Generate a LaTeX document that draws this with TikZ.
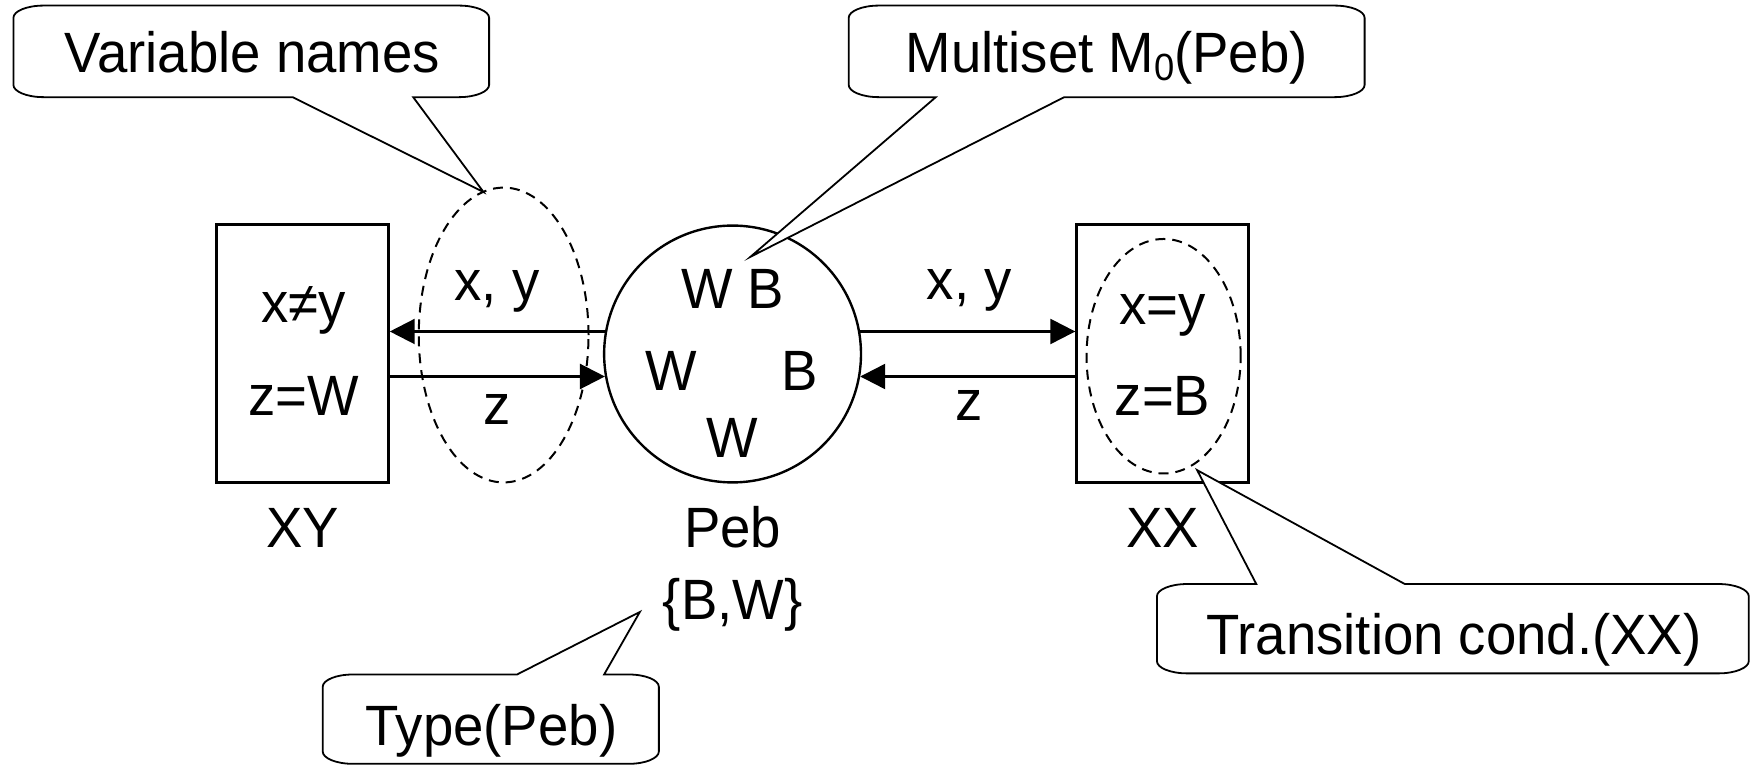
\documentclass[tikz,border=0pt]{standalone}
\usepackage{fontspec}
\setmainfont[FakeStretch=0.96]{Liberation Sans}
\usetikzlibrary{arrows.meta,shapes.geometric}
\begin{document}
\begin{tikzpicture}[x=0.56pt,y=-0.56pt,
  lbl/.style={font=\fontsize{28.5}{33}\selectfont, inner sep=0pt, anchor=base},
  trans/.style={draw, line width=1.2pt, minimum width=154*0.56pt, minimum height=231*0.56pt, inner sep=0pt},
  place/.style={draw, circle, line width=1.2pt, minimum size=230*0.56pt, inner sep=0pt},
  dashell/.style={draw, ellipse, line width=1pt, dash pattern=on 5pt off 3.5pt, inner sep=0pt},
  arr/.style={line width=1.2pt, -{Triangle[length=12.5pt,width=12.5pt]}},
  callout/.style={draw, line width=0.9pt, fill=white, line join=miter},
]
\useasboundingbox (0,0) rectangle (1568,686);

% transitions and place
\node[trans] (xy) at (271,316.5) {};
\node[trans] (xx) at (1041,316.5) {};
\node[place] (peb) at (656,317) {};

% dashed ellipses
\node[dashell, minimum width=152*0.56pt, minimum height=264*0.56pt] (varell) at (451,300) {};
\node[dashell, minimum width=138*0.56pt, minimum height=210*0.56pt] (condell) at (1042,319) {};

% texts in transitions
\node[lbl] (xyg1) at (272,289) {x≠y};
\node[lbl] (xyg2) at (272,372) {z=W};
\node[lbl] (xxg1) at (1041,291) {x=y};
\node[lbl] (xxg2) at (1041,372) {z=B};
\node[lbl] (xyname) at (271,490) {XY};
\node[lbl] (xxname) at (1041,490) {XX};

% tokens in place
\node[lbl] (tok1) at (656,276) {W B};
\node[lbl] (tok2) at (601,350) {W};
\node[lbl] (tok3) at (716,350) {B};
\node[lbl] (tok4) at (656,410) {W};
\node[lbl] (pebname) at (656,490) {Peb};
\node[lbl] (pebtype) at (656,555) {\{B,W\}};

% arcs
\draw[arr] (peb.170) -- (xy.east |- peb.170);
\draw[arr] (xy.east |- peb.190) -- (peb.190);
\draw[arr] (peb.10) -- (xx.west |- peb.10);
\draw[arr] (xx.west |- peb.350) -- (peb.350);
\node[lbl] (l1) at (445,269) {x, y};
\node[lbl] (l2) at (445,380) {z};
\node[lbl] (l3) at (868,268) {x, y};
\node[lbl] (l4) at (868,377) {z};

% callouts
\coordinate (tipvar) at (433,172);
\coordinate (tipms) at (672,230);
\coordinate (tiptc) at (1072,421);
\coordinate (tiptype) at (573,548);

\draw[callout] (262,87) -- (tipvar) -- (370,87) -- (411,87) .. controls (426,87) and (438,82) .. (438,76) -- (438,16) .. controls (438,10) and (426,5) .. (411,5) -- (39,5) .. controls (24,5) and (12,10) .. (12,16) -- (12,76) .. controls (12,82) and (24,87) .. (39,87) -- cycle;
\node[lbl] (cvar) at (226,65) {Variable names};

\draw[callout] (838,87) -- (tipms) -- (953,87) -- (1195,87) .. controls (1210,87) and (1222,82) .. (1222,76) -- (1222,16) .. controls (1222,10) and (1210,5) .. (1195,5) -- (787,5) .. controls (772,5) and (760,10) .. (760,16) -- (760,76) .. controls (760,82) and (772,87) .. (787,87) -- cycle;
\node[lbl] (cms) at (991,65) {Multiset M\raisebox{-4pt}{\fontsize{19}{20}\selectfont 0}(Peb)};

\draw[callout] (1125,523) -- (tiptc) -- (1258,523) -- (1539,523) .. controls (1554,523) and (1566,528) .. (1566,534) -- (1566,592) .. controls (1566,598) and (1554,603) .. (1539,603) -- (1063,603) .. controls (1048,603) and (1036,598) .. (1036,592) -- (1036,534) .. controls (1036,528) and (1048,523) .. (1063,523) -- cycle;
\node[lbl] (ctc) at (1302,586) {Transition cond.(XX)};

\draw[callout] (463,604) -- (tiptype) -- (541,604) -- (563,604) .. controls (578,604) and (590,609) .. (590,615) -- (590,673) .. controls (590,679) and (578,684) .. (563,684) -- (316,684) .. controls (301,684) and (289,679) .. (289,673) -- (289,615) .. controls (289,609) and (301,604) .. (316,604) -- cycle;
\node[lbl] (ctype) at (440,668) {Type(Peb)};
\end{tikzpicture}
\end{document}
